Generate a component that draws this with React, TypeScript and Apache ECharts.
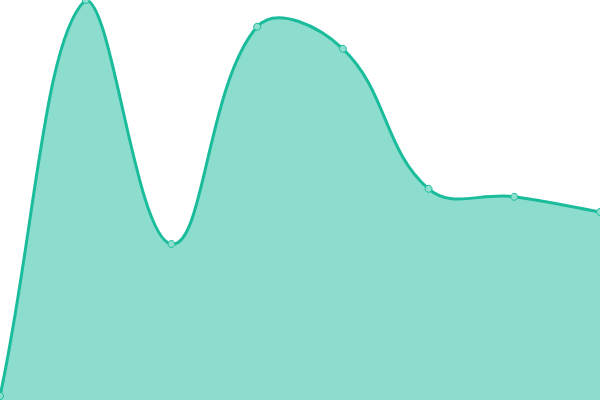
import { useEffect, useRef } from 'react'
import * as echarts from 'echarts'

const categories = ['A', 'B', 'C', 'D', 'E', 'F', 'G', 'H']
const values = [1, 100, 39, 93.3, 87.8, 52.8, 50.8, 47]

const lineColor = '#1abc9c'
const fillColor = 'rgba(26, 188, 156, 0.5)'
const pointFill = '#8ddece'
const tension = 0.4

type Pt = [number, number]

// cardinal-ish spline with control points kept inside the plot area
function buildSpline(pts: Pt[], area: { x: number; y: number; width: number; height: number }) {
  const cps: { prev: Pt; next: Pt }[] = pts.map((cur, i) => {
    const prev = pts[i - 1] || cur
    const next = pts[i + 1] || cur
    const d01 = Math.hypot(cur[0] - prev[0], cur[1] - prev[1])
    const d12 = Math.hypot(next[0] - cur[0], next[1] - cur[1])
    let s01 = d01 / (d01 + d12)
    let s12 = d12 / (d01 + d12)
    if (isNaN(s01)) s01 = 0
    if (isNaN(s12)) s12 = 0
    const fa = tension * s01
    const fb = tension * s12
    const dx = next[0] - prev[0]
    const dy = next[1] - prev[1]
    const clamp = (p: Pt): Pt => [
      Math.min(Math.max(p[0], area.x), area.x + area.width),
      Math.min(Math.max(p[1], area.y), area.y + area.height),
    ]
    return {
      prev: clamp([cur[0] - fa * dx, cur[1] - fa * dy]),
      next: clamp([cur[0] + fb * dx, cur[1] + fb * dy]),
    }
  })
  let d = `M${pts[0][0]},${pts[0][1]}`
  for (let i = 1; i < pts.length; i++) {
    const a = cps[i - 1].next
    const b = cps[i].prev
    d += ` C${a[0]},${a[1]} ${b[0]},${b[1]} ${pts[i][0]},${pts[i][1]}`
  }
  return d
}

export default function App() {
  const chartRef = useRef<HTMLDivElement>(null)

  useEffect(() => {
    if (!chartRef.current) return
    const chart = echarts.init(chartRef.current, null, { renderer: 'svg' })

    chart.setOption({
      animation: false,
      grid: { left: 0, right: 0, top: 0, bottom: 0 },
      xAxis: {
        type: 'category',
        data: categories,
        boundaryGap: false,
        show: false,
      },
      yAxis: {
        type: 'value',
        min: 0,
        max: 100,
        show: false,
      },
      series: [
        {
          type: 'custom',
          data: values.map((v, i) => [i, v]),
          encode: { x: 0, y: 1 },
          renderItem: (params: any, api: any) => {
            if (params.dataIndex !== 0) return null
            const area = params.coordSys
            const pts: Pt[] = values.map((v, i) => api.coord([i, v]))
            const line = buildSpline(pts, area)
            const bottom = area.y + area.height
            const last = pts[pts.length - 1]
            const fill = `${line} L${last[0]},${bottom} L${pts[0][0]},${bottom} Z`
            return {
              type: 'group',
              children: [
                { type: 'path', shape: { pathData: fill }, style: { fill: fillColor } },
                {
                  type: 'path',
                  shape: { pathData: line },
                  style: { fill: 'none', stroke: lineColor, lineWidth: 3 },
                },
              ],
            }
          },
          z: 1,
        },
        {
          type: 'scatter',
          data: values,
          symbol: 'circle',
          symbolSize: 7,
          itemStyle: {
            color: pointFill,
            borderColor: lineColor,
            borderWidth: 1,
            opacity: 1,
          },
          z: 2,
        },
      ],
    })

    return () => {
      chart.dispose()
    }
  }, [])

  return (
    <div
      ref={chartRef}
      style={{ position: 'fixed', left: 0, top: 0, width: 600, height: 400 }}
    />
  )
}
